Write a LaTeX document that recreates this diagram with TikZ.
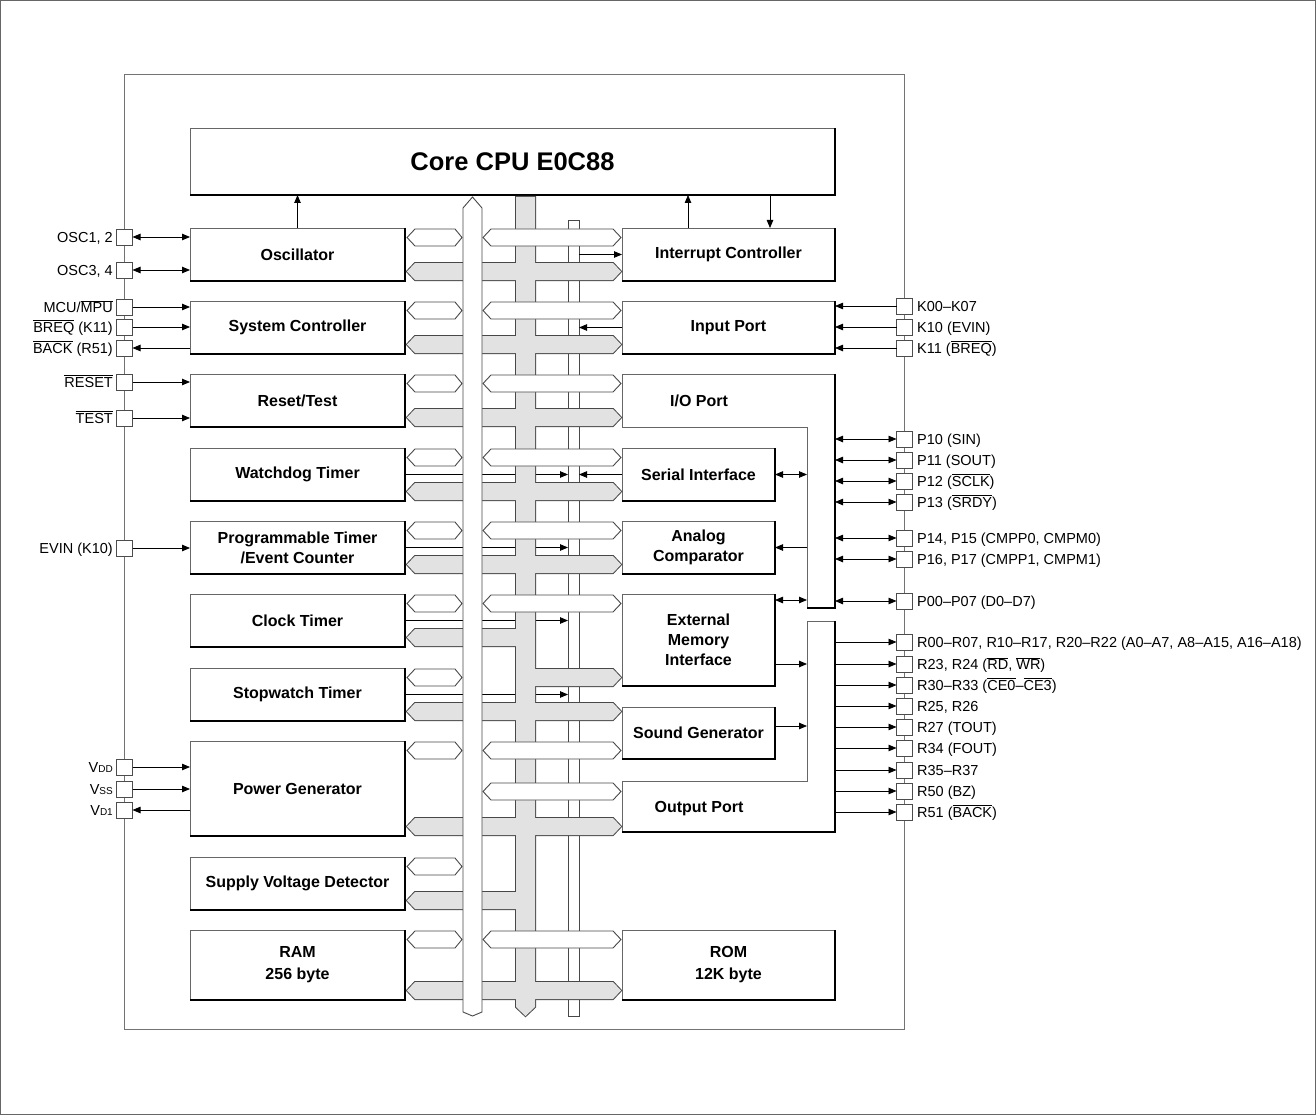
\documentclass[tikz,border=0pt]{standalone}
\usepackage{fontspec}
\setmainfont{Liberation Sans}
\usetikzlibrary{arrows.meta}
\newcommand\ovl[1]{$\overline{\mbox{#1}}$}
\newcommand\subsm[1]{{\fontsize{10}{10}\selectfont #1}}
\definecolor{busgray}{HTML}{E2E2E2}
\definecolor{edgec}{HTML}{484848}
\newcommand\shadowof[1]{\draw[shad] (#1.south west) -- (#1.south east) -- (#1.north east);}
\newcommand\lstub[1]{\path[wstub] (407,#1+8.5) -- (415,#1) -- (455,#1) -- (462,#1+8.5) -- (455,#1+17) -- (415,#1+17) -- cycle;}
\newcommand\rstub[1]{\path[wstub] (483,#1+8.5) -- (491,#1) -- (613,#1) -- (621,#1+8.5) -- (613,#1+17) -- (491,#1+17) -- cycle;}
\newcommand\gfull[2]{\path[#1] (407,#2+8.5) -- (415,#2) -- (613,#2) -- (621,#2+8.5) -- (613,#2+17) -- (415,#2+17) -- cycle;}
\newcommand\gleft[2]{\path[#1] (407,#2+8.5) -- (415,#2) -- (525,#2) -- (525,#2+17) -- (415,#2+17) -- cycle;}
\newcommand\gright[2]{\path[#1] (525,#2) -- (613,#2) -- (621,#2+8.5) -- (613,#2+17) -- (525,#2+17) -- cycle;}
\newcommand\grayall[1]{%
  \path[#1] (516,197) -- (535,197) -- (535,1007) -- (525.5,1016) -- (516,1007) -- cycle;
  \gfull{#1}{263}\gfull{#1}{336}\gfull{#1}{409}\gfull{#1}{483}\gfull{#1}{556}%
  \gleft{#1}{629}\gright{#1}{669}\gfull{#1}{703}\gfull{#1}{818}\gleft{#1}{892}\gfull{#1}{982}}
\begin{document}
\begin{tikzpicture}[x=1pt,y=-1pt,
  blk/.style={draw=black!60, line width=0.8pt, fill=white, inner sep=0pt, outer sep=0pt,
    font=\fontsize{16}{20}\selectfont\bfseries, align=center},
  shad/.style={line width=2pt, black},
  wstub/.style={draw=edgec, line width=0.9pt, fill=white},
  pinbox/.style={draw=black!70, fill=white, minimum size=16pt, inner sep=0pt, outer sep=0pt, line width=0.8pt},
  plab/.style={font=\fontsize{14.5}{16}\selectfont, inner sep=0pt},
  arr/.style={line width=0.8pt, -{Triangle[length=8pt,width=6.5pt]}},
  darr/.style={line width=0.8pt, {Triangle[length=8pt,width=6.5pt]}-{Triangle[length=8pt,width=6.5pt]}},
  lbl/.style={font=\fontsize{16}{20}\selectfont\bfseries, align=center, inner sep=0pt}
]
\useasboundingbox (0,0) rectangle (1316,1115);
% frames
\draw[black!60, line width=1pt] (0.5,0.5) rectangle (1315.5,1114.5);
\draw[black!55, line width=0.9pt] (124.5,74.5) rectangle (904.5,1029.5);

% named helper coordinates
\coordinate (tbL) at (568,0);
\coordinate (tbR) at (579,0);
\coordinate (ioL) at (807,0);
\coordinate (ioR) at (835,0);
\coordinate (x688) at (688,0);
\coordinate (x770) at (770,0);
\coordinate (y600) at (0,600);
\coordinate (y664) at (0,664);
\coordinate (y726) at (0,726);

% CPU
\node[blk, minimum width=645pt, minimum height=67pt, font=\fontsize{25.5}{30}\selectfont\bfseries] (cpu) at (512.5,161.5) {Core CPU E0C88};
\shadowof{cpu}

% thin bus
\draw[edgec, line width=0.9pt, fill=white] (568,220) rectangle (579,1016);

% left blocks
\node[blk, minimum width=215pt, minimum height=53pt] (osc)  at (297.5,254.5) {Oscillator};
\node[blk, minimum width=215pt, minimum height=53pt] (sysc) at (297.5,327.5) {System Controller};
\node[blk, minimum width=215pt, minimum height=53pt] (rst)  at (297.5,400.5) {Reset/Test};
\node[blk, minimum width=215pt, minimum height=53pt] (wdt)  at (297.5,474.5) {Watchdog Timer};
\node[blk, minimum width=215pt, minimum height=53pt] (ptm)  at (297.5,547.5) {Programmable Timer\\/Event Counter};
\node[blk, minimum width=215pt, minimum height=53pt] (clk)  at (297.5,620.5) {Clock Timer};
\node[blk, minimum width=215pt, minimum height=53pt] (swt)  at (297.5,694.5) {Stopwatch Timer};
\node[blk, minimum width=215pt, minimum height=95pt] (pwr)  at (297.5,788.5) {Power Generator};
\node[blk, minimum width=215pt, minimum height=53pt] (svd)  at (297.5,883.5) {Supply Voltage Detector};
\node[blk, minimum width=215pt, minimum height=70pt, font=\fontsize{16}{22}\selectfont\bfseries] (ram) at (297.5,965) {RAM\\256 byte};

% right blocks
\node[blk, minimum width=213pt, minimum height=53pt] (ic)   at (728.5,254.5) {Interrupt Controller};
\node[blk, minimum width=213pt, minimum height=53pt] (inp)  at (728.5,327.5) {Input Port};
\node[blk, minimum width=153pt, minimum height=53pt] (ser)  at (698.5,474.5) {Serial Interface};
\node[blk, minimum width=153pt, minimum height=53pt] (acmp) at (698.5,547.5) {Analog\\Comparator};
\node[blk, minimum width=153pt, minimum height=92pt] (emi)  at (698.5,640) {External\\Memory\\Interface};
\node[blk, minimum width=153pt, minimum height=52pt] (snd)  at (698.5,733) {Sound Generator};
\node[blk, minimum width=213pt, minimum height=70pt, font=\fontsize{16}{22}\selectfont\bfseries] (rom) at (728.5,965) {ROM\\12K byte};
% L-shaped ports
\draw[black!60, line width=0.8pt, fill=white] (622,374) -- (835,374) -- (835,608) -- (807,608) -- (807,427) -- (622,427) -- cycle;
\draw[shad] (807,608) -- (835,608) -- (835,374);
\node[lbl] (io) at (699,401) {I/O Port};
\draw[black!60, line width=0.8pt, fill=white] (807,621) -- (835,621) -- (835,832) -- (622,832) -- (622,781) -- (807,781) -- cycle;
\draw[shad] (622,832) -- (835,832) -- (835,621);
\node[lbl] (outp) at (699,809) {Output Port};

\foreach \b in {osc,sysc,rst,wdt,ptm,clk,swt,pwr,svd,ram,ic,inp,ser,acmp,emi,snd,rom}{\shadowof{\b}}

% arrows from left blocks to thin bus (under buses)
\foreach \b in {wdt,ptm,clk,swt}{\draw[arr] (\b.east) -- (tbL |- \b.east);}

% gray bus and stubs
\grayall{draw=edgec, line width=2pt}
\grayall{fill=busgray}

% main bus
\draw[edgec, line width=0.9pt, fill=white] (463,208) -- (472.5,197) -- (482,208) -- (482,1012) -- (472.5,1016) -- (463,1012) -- cycle;

% white stubs
\foreach \a in {229,302,375,449,522,595,669,742,858,931}{\lstub{\a}}
\foreach \a in {229,302,375,449,522,595,742,783,931}{\rstub{\a}}

% thin bus arrows (right side)
\draw[arr] (tbR |- ic.west) -- (ic.west);
\draw[arr] (inp.west) -- (tbR |- inp.west);
\draw[arr] (ser.west) -- (tbR |- ser.west);

% CPU arrows
\draw[arr] (osc.north) -- (osc.north |- cpu.south);
\draw[arr] (x688 |- ic.north) -- (x688 |- cpu.south);
\draw[arr] (x770 |- cpu.south) -- (x770 |- ic.north);

% peripheral to port strips
\draw[darr] (ser.east) -- (ioL |- ser.east);
\draw[arr] (ioL |- acmp.east) -- (acmp.east);
\draw[darr] (emi.east |- y600) -- (ioL |- y600);
\draw[arr] (emi.east |- y664) -- (ioL |- y664);
\draw[arr] (snd.east |- y726) -- (ioL |- y726);

% left pins
\foreach \n/\y/\t in {pOsc1/237/{OSC1, 2}, pOsc3/270/{OSC3, 4}, pMcu/307/{MCU/\ovl{MPU}},
  pBreq/327/{\ovl{BREQ} (K11)}, pBack/348/{\ovl{BACK} (R51)}, pRes/382/{\ovl{RESET}},
  pTest/418/{\ovl{TEST}}, pEvin/548/{EVIN (K10)}, pVdd/767/{V\subsm{DD}},
  pVss/789/{V\subsm{SS}}, pVd1/810/{V\subsm{D1}}}{
  \node[pinbox] (\n) at (124.5,\y) {};
  \node[plab, anchor=base east] (l\n) at (113,\y+5.2) {\t};
}
\draw[darr] (pOsc1.east) -- (osc.west |- pOsc1.east);
\draw[darr] (pOsc3.east) -- (osc.west |- pOsc3.east);
\draw[arr] (pMcu.east) -- (sysc.west |- pMcu.east);
\draw[arr] (pBreq.east) -- (sysc.west |- pBreq.east);
\draw[arr] (sysc.west |- pBack.east) -- (pBack.east);
\draw[arr] (pRes.east) -- (rst.west |- pRes.east);
\draw[arr] (pTest.east) -- (rst.west |- pTest.east);
\draw[arr] (pEvin.east) -- (ptm.west |- pEvin.east);
\draw[arr] (pVdd.east) -- (pwr.west |- pVdd.east);
\draw[arr] (pVss.east) -- (pwr.west |- pVss.east);
\draw[arr] (pwr.west |- pVd1.east) -- (pVd1.east);

% right pins
\foreach \n/\y/\t in {pK0/306/{K00–K07}, pK10/327/{K10 (EVIN)}, pK11/348/{K11 (\ovl{BREQ})},
  pP10/439/{P10 (SIN)}, pP11/460/{P11 (SOUT)}, pP12/481/{P12 (\ovl{SCLK})}, pP13/502/{P13 (\ovl{SRDY})},
  pP14/538/{P14, P15 (CMPP0, CMPM0)}, pP16/559/{P16, P17 (CMPP1, CMPM1)}, pP0/601/{P00–P07 (D0–D7)},
  pR0/642/{R00–R07, R10–R17, R20–R22 (A0–A7, A8–A15, A16–A18)}, pR23/664/{R23, R24 (\ovl{RD}, \ovl{WR})},
  pR30/685/{R30–R33 (\ovl{CE0}–\ovl{CE3})}, pR25/706/{R25, R26}, pR27/727/{R27 (TOUT)},
  pR34/748/{R34 (FOUT)}, pR35/770/{R35–R37}, pR50/791/{R50 (BZ)}, pR51/812/{R51 (\ovl{BACK})}}{
  \node[pinbox] (\n) at (904.5,\y) {};
  \node[plab, anchor=base west] (l\n) at (917,\y+5.2) {\t};
}
\foreach \n in {pK0,pK10,pK11}{\draw[arr] (\n.west) -- (inp.east |- \n.west);}
\foreach \n in {pP10,pP11,pP12,pP13,pP14,pP16,pP0}{\draw[darr] (ioR |- \n.west) -- (\n.west);}
\foreach \n in {pR0,pR23,pR30,pR25,pR27,pR34,pR35,pR50,pR51}{\draw[arr] (ioR |- \n.west) -- (\n.west);}
\end{tikzpicture}
\end{document}
